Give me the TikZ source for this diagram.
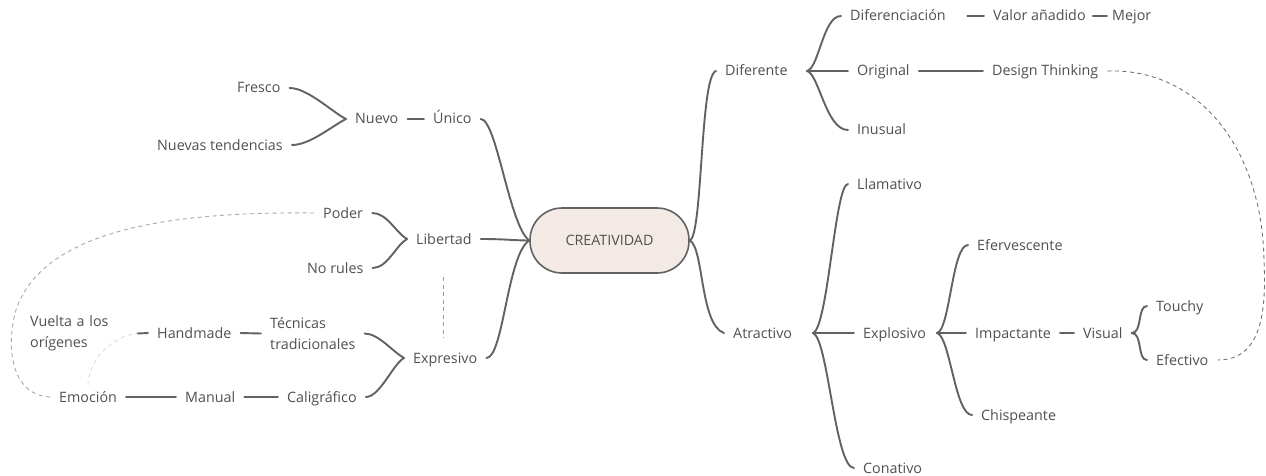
\documentclass[tikz,border=0pt]{standalone}
\usepackage{fontspec}
\setmainfont{Open Sans}
\definecolor{txt}{HTML}{505050}
\definecolor{ln}{HTML}{626262}
\definecolor{bgc}{HTML}{F4EAE5}
\definecolor{dashl}{HTML}{A8A8A8}
\definecolor{dashm}{HTML}{9A9A9A}
\definecolor{dashd}{HTML}{747474}
\definecolor{faint}{HTML}{DCDCDC}
\begin{document}
\begin{tikzpicture}[x=1pt,y=-1pt,
  lbl/.style={anchor=west, xshift=-9pt, inner xsep=9pt, inner ysep=0pt,
    text height=11pt, text depth=1pt, text=txt, font=\fontsize{14.3}{17}\selectfont},
  lbltwo/.style={anchor=west, xshift=-9pt, inner xsep=9pt, inner ysep=0pt,
    align=left, text=txt, font=\fontsize{14.3}{21}\selectfont},
  creat/.style={draw=ln, line width=1.6pt, fill=bgc, rounded corners=32pt,
    minimum width=159pt, minimum height=65pt, inner sep=0pt, text=txt,
    font=\fontsize{14.3}{17}\selectfont},
  link/.style={draw=ln, line width=1.9pt, line cap=round},
  rel/.style={line width=0.9pt, dash pattern=on 4pt off 3.5pt},
]
\fill[white] (0,0) rectangle (1266,476);
\useasboundingbox (0,0) rectangle (1266,476);

% central idea
\node[creat] (c) at (609.5,240.5) {CREATIVIDAD};

% left branch: Nuevo / Único
\node[lbl] (fresco)  at (237,88)  {Fresco};
\node[lbl] (nuevten) at (157,145) {Nuevas tendencias};
\node[lbl] (nuevo)   at (355,119) {Nuevo};
\node[lbl] (unico)   at (433,119) {Único};

% left branch: Libertad
\node[lbl] (poder)    at (323,213) {Poder};
\node[lbl] (norules)  at (307,268) {No rules};
\node[lbl] (libertad) at (416,239) {Libertad};

% left branch: Expresivo
\node[lbltwo, text width=98pt] (vuelta) at (30,333.5) {Vuelta a los\\orígenes};
\node[lbl] (handmade) at (157,333) {Handmade};
\node[lbltwo] (tecnicas) at (270,333.5) {Técnicas\\tradicionales};
\node[lbl] (expresivo)   at (413,358) {Expresivo};
\node[lbl] (emocion)     at (59,397)  {Emoción};
\node[lbl] (manual)      at (185,397) {Manual};
\node[lbl] (caligrafico) at (287,397) {Caligráfico};

% right branch: Diferente
\node[lbl] (diferente) at (725,71) {Diferente};
\node[lbl, text width=108pt, align=left] (difer) at (850,16) {Diferenciación};
\node[lbl] (valor)    at (993,16)  {Valor añadido};
\node[lbl] (mejor)    at (1112,16) {Mejor};
\node[lbl] (original) at (857,71)  {Original};
\node[lbl] (design)   at (992,71)  {Design Thinking};
\node[lbl] (inusual)  at (857,130) {Inusual};

% right branch: Atractivo
\node[lbl] (atractivo) at (733,333) {Atractivo};
\node[lbl] (llamativo) at (857,184) {Llamativo};
\node[lbl] (explosivo) at (863,333) {Explosivo};
\node[lbl] (conativo)  at (863,468) {Conativo};
\node[lbl] (eferv)     at (977,245) {Efervescente};
\node[lbl] (impact)    at (975,333) {Impactante};
\node[lbl] (chisp)     at (981,415) {Chispeante};
\node[lbl] (visual)    at (1083,333) {Visual};
\node[lbl] (touchy)    at (1156,306) {Touchy};
\node[lbl] (efectivo)  at (1156,360) {Efectivo};

% bracket branch points
\coordinate (difB) at (807,71);
\coordinate (atrB) at (813,333);
\coordinate (exB)  at (937,333);

% --- left connectors
\draw[link] (fresco.east)  .. controls +(18,0) and +(-14,-7) .. (nuevo.west);
\draw[link] (nuevten.east) .. controls +(18,0) and +(-14,7)  .. (nuevo.west);
\draw[link] (nuevo.east) -- (unico.west);
\draw[link] (unico.east) .. controls +(16,0) and +(-20,-15) .. (c.west);

\draw[link] (poder.east)   .. controls +(15,0) and +(-11,-6) .. (libertad.west);
\draw[link] (norules.east) .. controls +(15,0) and +(-11,6)  .. (libertad.west);
\draw[link] (libertad.east) .. controls +(25,0) and +(-15,0) .. (c.west);

\draw[link] (vuelta.east) -- (handmade.west);
\draw[link] (handmade.east) -- (tecnicas.west);
\draw[link] (tecnicas.east)    .. controls +(14,0) and +(-11,-6) .. (expresivo.west);
\draw[link] (caligrafico.east) .. controls +(14,0) and +(-11,6)  .. (expresivo.west);
\draw[link] (expresivo.east) .. controls +(17,0) and +(-22,14) .. (c.west);
\draw[link] (emocion.east) -- (manual.west);
\draw[link] (manual.east) -- (caligrafico.west);

% --- right connectors
\draw[link] (c.east) .. controls +(13,-5) and +(-16,4) .. (diferente.west);
\draw[link] (c.east) .. controls +(14,7) and +(-24,-8) .. (atractivo.west);

\draw[link] (difB) -- (original.west);
\draw[link] (difB) .. controls +(12,-3) and +(-18,0) .. (difer.west);
\draw[link] (difB) .. controls +(12,3)  and +(-22,0) .. (inusual.west);
\draw[link] (difer.east) -- (valor.west);
\draw[link, shorten <=-2pt, shorten >=-4pt] (valor.east) -- (mejor.west);
\draw[link] (original.east) -- (design.west);

\draw[link] (atrB) -- (explosivo.west);
\draw[link] (atrB) .. controls +(15,-5) and +(-13,0) .. (llamativo.west);
\draw[link] (atrB) .. controls +(15,5)  and +(-19,0) .. (conativo.west);
\draw[link] (exB) -- (impact.west);
\draw[link] (exB) .. controls +(13,-3) and +(-16,0) .. (eferv.west);
\draw[link] (exB) .. controls +(13,3)  and +(-17,0) .. (chisp.west);
\draw[link] (impact.east) -- (visual.west);
\draw[link] (visual.east) .. controls +(11,0) and +(-10,0) .. (touchy.west);
\draw[link] (visual.east) .. controls +(11,0) and +(-10,0) .. (efectivo.west);

% --- relation lines
\draw[rel, draw=dashl] (poder.west) .. controls (140,211) and (40,240) .. (16,310)
   .. controls (6,345) and (10,395) .. (emocion.west);
\draw[rel, draw=dashm, shorten <=32pt, shorten >=14pt]
   (libertad.south) -- (libertad.south |- expresivo.north);
\draw[rel, draw=faint, shorten <=6pt] (emocion.north) .. controls +(0,-30) and +(-25,2) .. (vuelta.east);
\draw[rel, draw=dashd] (design.east) .. controls (1200,68) and (1262,150) .. (1264,260)
   .. controls (1267,320) and (1258,360) .. (efectivo.east);
\end{tikzpicture}
\end{document}
